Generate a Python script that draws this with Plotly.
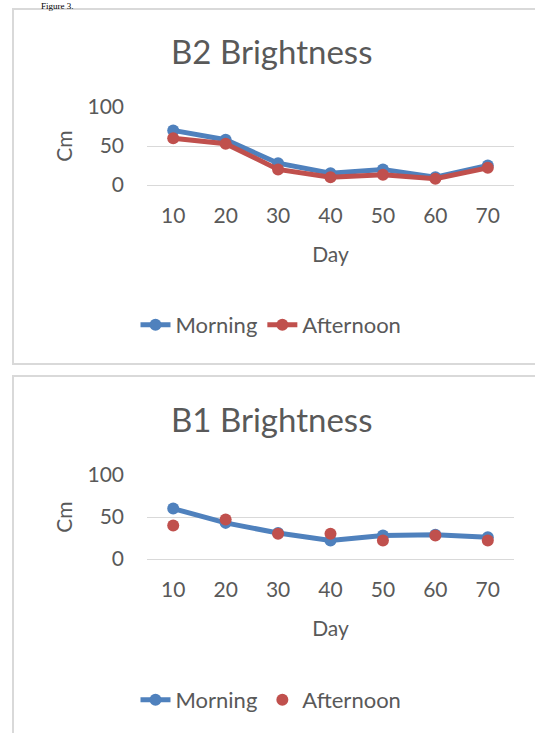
import plotly.graph_objects as go

W, H = 535, 733

days = ["10", "20", "30", "40", "50", "60", "70"]
b2_morning = [70, 58, 28, 15, 20, 10, 25]
b2_afternoon = [60, 53, 20, 10, 13, 8, 22]
b1_morning = [60, 43, 31, 22, 28, 29, 26]
b1_afternoon = [40, 47, 30, 30, 22, 28, 22]
y_ticks = [0, 50, 100]

BLUE = "#4f81bd"
RED = "#c0504d"
GRID = "#d9d9d9"
TXT = "#595959"
FONT = "Lato"

def px(x):
    return x / W

def py(y):
    return 1 - y / H

fig = go.Figure()

fig.add_trace(go.Scatter(x=days, y=b2_morning, name="Morning", mode="lines+markers",
                         line=dict(color=BLUE, width=5), marker=dict(size=12, color=BLUE),
                         xaxis="x", yaxis="y", legend="legend"))
fig.add_trace(go.Scatter(x=days, y=b2_afternoon, name="Afternoon", mode="lines+markers",
                         line=dict(color=RED, width=5), marker=dict(size=12, color=RED),
                         xaxis="x", yaxis="y", legend="legend"))
fig.add_trace(go.Scatter(x=days, y=b1_morning, name="Morning", mode="lines+markers",
                         line=dict(color=BLUE, width=5), marker=dict(size=12, color=BLUE),
                         xaxis="x2", yaxis="y2", legend="legend2"))
fig.add_trace(go.Scatter(x=days, y=b1_afternoon, name="Afternoon", mode="markers",
                         marker=dict(size=12, color=RED),
                         xaxis="x2", yaxis="y2", legend="legend2"))

xcommon = dict(type="category", range=[-0.5, 6.5], showgrid=False, zeroline=False,
               showline=True, linecolor=GRID, linewidth=1, ticks="",
               tickfont=dict(family=FONT, size=21, color=TXT), ticklabelstandoff=12,
               title=dict(text="Day", font=dict(family=FONT, size=21, color=TXT), standoff=21),
               fixedrange=True)
ycommon = dict(range=[0, 100], tickvals=y_ticks, showgrid=True, gridcolor=GRID, gridwidth=1,
               zeroline=False, showline=False, ticks="",
               tickfont=dict(family=FONT, size=21, color=TXT), ticklabelstandoff=22,
               title=dict(text="Cm", font=dict(family=FONT, size=21, color=TXT), standoff=9),
               fixedrange=True)

fig.update_layout(
    width=W, height=H, margin=dict(l=0, r=0, t=0, b=0, autoexpand=False),
    paper_bgcolor="white", plot_bgcolor="white",
    xaxis=dict(xcommon, domain=[px(147), px(514)], anchor="y"),
    yaxis=dict(ycommon, domain=[py(185), py(107)], anchor="x"),
    xaxis2=dict(xcommon, domain=[px(147), px(514)], anchor="y2"),
    yaxis2=dict(ycommon, domain=[py(559), py(475)], anchor="x2"),
    legend=dict(orientation="h", x=px(271), xanchor="center", y=py(325), yanchor="middle",
                font=dict(family=FONT, size=22, color=TXT), bgcolor="rgba(0,0,0,0)"),
    legend2=dict(orientation="h", x=px(271), xanchor="center", y=py(700), yanchor="middle",
                 font=dict(family=FONT, size=22, color=TXT), bgcolor="rgba(0,0,0,0)"),
    showlegend=True,
)

fig.add_annotation(text="B2 Brightness", x=px(271), y=py(51), xref="paper", yref="paper",
                   showarrow=False, xanchor="center", yanchor="middle",
                   font=dict(family=FONT, size=33, color=TXT))
fig.add_annotation(text="B1 Brightness", x=px(271), y=py(419), xref="paper", yref="paper",
                   showarrow=False, xanchor="center", yanchor="middle",
                   font=dict(family=FONT, size=33, color=TXT))
fig.add_annotation(text="Figure 3.", x=px(40), y=1, xref="paper", yref="paper",
                   showarrow=False, xanchor="left", yanchor="top", borderpad=0,
                   font=dict(family="Liberation Serif", size=9, color="black"))

fig.add_shape(type="rect", xref="paper", yref="paper", x0=px(13), x1=px(560), y0=py(364), y1=py(9),
              line=dict(color=GRID, width=2), fillcolor="rgba(0,0,0,0)", layer="below")
fig.add_shape(type="rect", xref="paper", yref="paper", x0=px(13), x1=px(560), y0=py(760), y1=py(376),
              line=dict(color=GRID, width=2), fillcolor="rgba(0,0,0,0)", layer="below")

fig.write_html("out.html", config={"displayModeBar": False},
               post_script="document.body.style.margin='0px';document.body.style.overflow='hidden';")
